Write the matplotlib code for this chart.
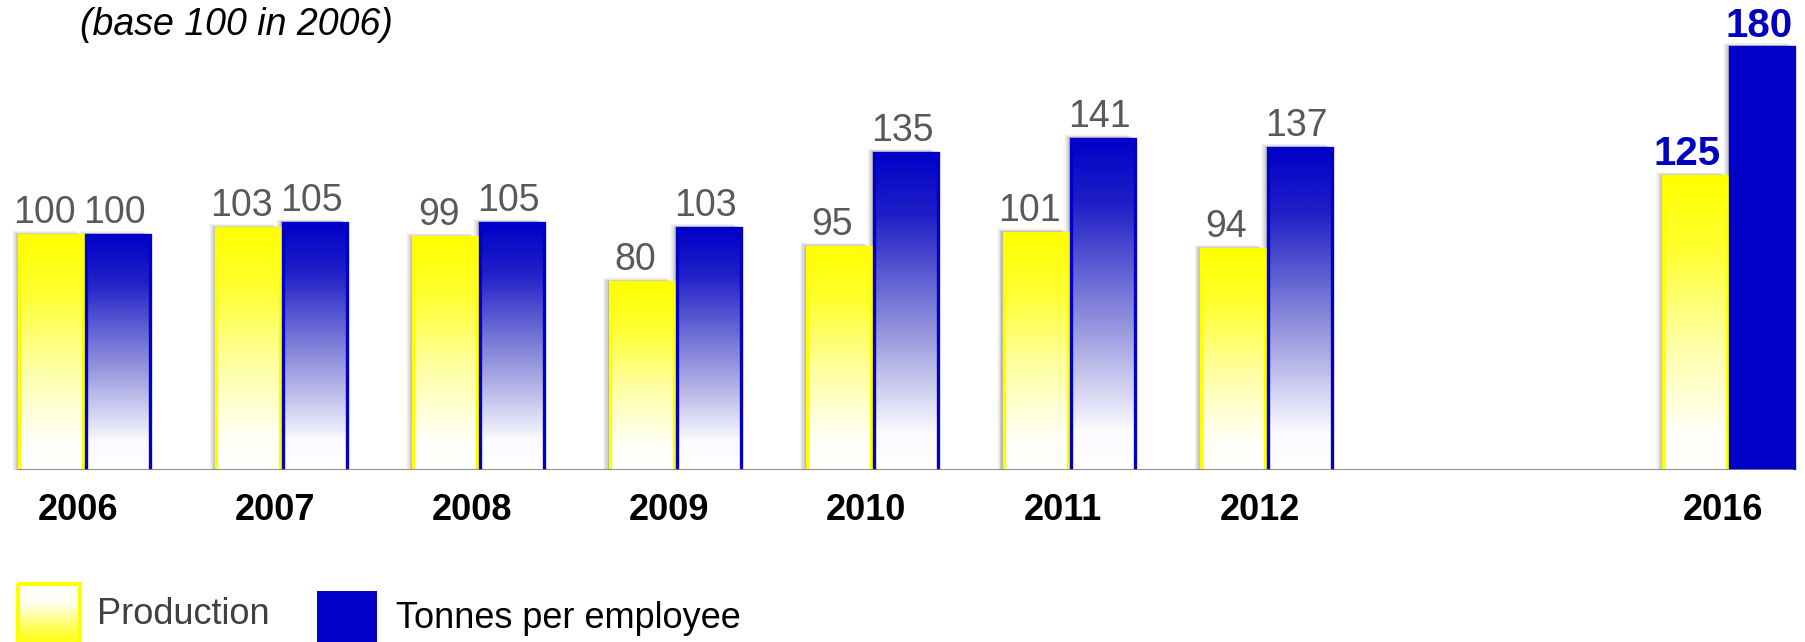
import numpy as np
import matplotlib
matplotlib.use("Agg")
import matplotlib.pyplot as plt
from matplotlib.patches import Rectangle
from matplotlib.colors import LinearSegmentedColormap

# ---- data ----
years = ["2006", "2007", "2008", "2009", "2010", "2011", "2012", "2016"]
production = [100, 103, 99, 80, 95, 101, 94, 125]
tonnes_per_employee = [100, 105, 105, 103, 135, 141, 137, 180]
title_text = "(base 100 in 2006)"
legend_labels = ["Production", "Tonnes per employee"]

# ---- layout ----
W, H = 1805, 642
DPI = 100
fig = plt.figure(figsize=(W / DPI, H / DPI), dpi=DPI)
FONT = "Liberation Sans"

base_px = 470          # baseline y (from top)
px_per_unit = 2.35     # vertical pixels per value unit
ymax = 195
group_px = 197.0       # pixels between groups
center0_px = 84.0      # x pixel of first group centre

ax_h = ymax * px_per_unit
ax = fig.add_axes([0, (H - base_px) / H, 1, ax_h / H])
ax.set_xlim(-center0_px / group_px, (W - center0_px) / group_px)
ax.set_ylim(0, ymax)
ax.axis("off")

# x positions: consecutive years, then gap before 2016
xpos = [float(i) for i in range(7)] + [8.35]

dx = 1.0 / group_px     # 1 pixel in x data units
dy = 1.0 / px_per_unit  # 1 pixel in y data units
bar_w = 64 * dx
gap = 3 * dx

yellow = "#FFFF00"
blue = "#0000C8"
cmap_y = LinearSegmentedColormap.from_list(
    "y", [(0, "#FFFFFF"), (0.12, "#FFFFFA"), (0.45, "#FFFFA0"), (0.75, "#FFFF30"), (1, yellow)])
cmap_b = LinearSegmentedColormap.from_list(
    "b", [(0, "#FFFFFF"), (0.12, "#FAFAFF"), (0.45, "#9090DC"), (0.8, "#2020C8"), (1, blue)])

grad = np.linspace(1, 0, 256).reshape(-1, 1)


def draw_bar(x0, h, cmap, edge, solid=False):
    # soft shadow to the left / top
    for k, a in zip(range(1, 8), [0.14, 0.12, 0.10, 0.08, 0.06, 0.05, 0.04]):
        ax.add_patch(Rectangle((x0 - k * dx, 0), bar_w, h + k * 0.6 * dy,
                               facecolor="#555555", edgecolor="none", alpha=a, zorder=1))
    if solid:
        ax.add_patch(Rectangle((x0, 0), bar_w, h, facecolor=edge, edgecolor="none", zorder=2))
    else:
        ax.imshow(grad, extent=[x0, x0 + bar_w, 0, h], origin="upper", aspect="auto",
                  cmap=cmap, vmin=0, vmax=1, zorder=2, interpolation="bilinear")
    ax.add_patch(Rectangle((x0, -2 * dy), bar_w, h + 2 * dy, facecolor="none",
                           edgecolor=edge, linewidth=2.4, zorder=3))


for i, x in enumerate(xpos):
    xy0 = x - gap / 2 - bar_w
    xb0 = x + gap / 2
    last = i == len(xpos) - 1
    draw_bar(xy0, production[i], cmap_y, yellow)
    draw_bar(xb0, tonnes_per_employee[i], cmap_b, blue, solid=last)
    if last:
        kw = dict(fontsize=29, fontweight="bold", color="#0000C0", family=FONT)
        ax.text(xy0 + bar_w / 2 - 8 * dx, production[i] + 3 * dy, str(production[i]),
                ha="center", va="bottom", **kw)
        ax.text(xb0 + bar_w / 2 - 3 * dx, tonnes_per_employee[i] + 2 * dy,
                str(tonnes_per_employee[i]), ha="center", va="bottom", **kw)
    else:
        kw = dict(fontsize=27, color="#595959", family=FONT)
        ax.text(xy0 + bar_w / 2 - 6 * dx, production[i] + 4 * dy, str(production[i]),
                ha="center", va="bottom", **kw)
        ax.text(xb0 + bar_w / 2 - 3 * dx, tonnes_per_employee[i] + 4 * dy,
                str(tonnes_per_employee[i]), ha="center", va="bottom", **kw)
    ax.text(x - 6 * dx, -40 * dy, years[i], ha="center", va="center",
            fontsize=26, fontweight="bold", color="black", family=FONT, clip_on=False)

# baseline
ax.plot([-67 * dx, (1793 - center0_px) / group_px], [0, 0], color="#808080",
        linewidth=2.0, zorder=4, solid_capstyle="butt")

# ---- overlay in pixel coordinates: title and legend ----
ov = fig.add_axes([0, 0, 1, 1], zorder=-1)
ov.set_xlim(0, W)
ov.set_ylim(H, 0)
ov.axis("off")

ov.text(236, 25, title_text, ha="center", va="center", fontsize=27,
        style="italic", color="black", family=FONT)

# legend: production swatch (white top -> yellow bottom)
lg = np.linspace(0, 1, 256).reshape(-1, 1)
cmap_leg = LinearSegmentedColormap.from_list(
    "ly", [(0, "#FFFFFF"), (0.3, "#FFFFF0"), (0.75, "#FFFF40"), (1, yellow)])
ov.imshow(lg, extent=[18, 80, 648, 584], origin="upper", aspect="auto",
          cmap=cmap_leg, vmin=0, vmax=1, zorder=2, interpolation="bilinear")
ov.set_xlim(0, W)
ov.set_ylim(H, 0)
ov.add_patch(Rectangle((18, 584), 62, 64, facecolor="none", edgecolor=yellow,
                       linewidth=3, zorder=3))
ov.text(97, 614, legend_labels[0], ha="left", va="center", fontsize=26,
        color="#404040", family=FONT)

ov.add_patch(Rectangle((317, 591), 60, 60, facecolor=blue, edgecolor="none", zorder=3))
ov.text(396, 619, legend_labels[1], ha="left", va="center", fontsize=26,
        color="black", family=FONT)

fig.savefig("out.png", dpi=DPI, facecolor="white")
